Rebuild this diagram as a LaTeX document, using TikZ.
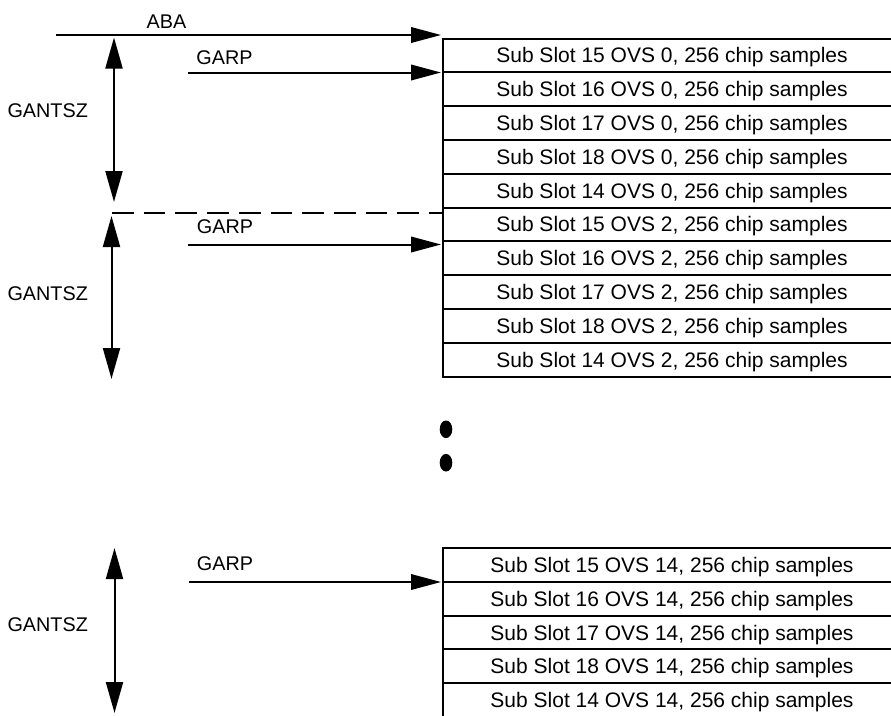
\documentclass[tikz,border=0pt]{standalone}
\usepackage{fontspec}
\setmainfont{Liberation Sans}
\usetikzlibrary{arrows.meta,shapes.geometric}
\begin{document}
\begin{tikzpicture}[x=1pt,y=-1pt,
  row/.style={draw, line width=2pt, minimum width=458pt, minimum height=33.8pt,
    inner sep=0pt, text height=15pt, text depth=0pt, font=\fontsize{21}{25}\selectfont},
  lbl/.style={inner sep=0pt, text height=14pt, text depth=0pt, font=\fontsize{19.8}{23}\selectfont},
  arr/.style={line width=2pt, -{Triangle[length=30pt,width=15.5pt]}},
  darr/.style={line width=2pt, {Triangle[length=31pt,width=17pt]}-{Triangle[length=31pt,width=17pt]}},
  dotnode/.style={ellipse, fill=black, draw=none, minimum width=12.6pt, minimum height=17.6pt, inner sep=0pt}]
\useasboundingbox (0,0) rectangle (891,715);
\clip (0,0) rectangle (891,715);

% group 1 and 2 rows
\node[row] (r1)  at (672,55.4)  {Sub Slot 15 OVS 0, 256 chip samples};
\node[row] (r2)  at (672,89.2)  {Sub Slot 16 OVS 0, 256 chip samples};
\node[row] (r3)  at (672,123.0) {Sub Slot 17 OVS 0, 256 chip samples};
\node[row] (r4)  at (672,156.8) {Sub Slot 18 OVS 0, 256 chip samples};
\node[row] (r5)  at (672,190.6) {Sub Slot 14 OVS 0, 256 chip samples};
\node[row] (r6)  at (672,224.4) {Sub Slot 15 OVS 2, 256 chip samples};
\node[row] (r7)  at (672,258.2) {Sub Slot 16 OVS 2, 256 chip samples};
\node[row] (r8)  at (672,292.0) {Sub Slot 17 OVS 2, 256 chip samples};
\node[row] (r9)  at (672,325.8) {Sub Slot 18 OVS 2, 256 chip samples};
\node[row] (r10) at (672,359.6) {Sub Slot 14 OVS 2, 256 chip samples};

% group 3 rows
\node[row] (s1) at (672,564.9) {Sub Slot 15 OVS 14, 256 chip samples};
\node[row] (s2) at (672,598.7) {Sub Slot 16 OVS 14, 256 chip samples};
\node[row] (s3) at (672,632.5) {Sub Slot 17 OVS 14, 256 chip samples};
\node[row] (s4) at (672,666.3) {Sub Slot 18 OVS 14, 256 chip samples};
\node[row] (s5) at (672,700.1) {Sub Slot 14 OVS 14, 256 chip samples};

% ABA arrow
\coordinate (abaS) at (56,35);
\coordinate (abaE) at (441,35);
\draw[arr] (abaS) -- (abaE);
\node[lbl] (aba) at (166.5,21.7) {ABA};

% GARP arrows
\coordinate (g1s) at (188,72.5);
\coordinate (g1e) at (441,72.5);
\draw[arr] (g1s) -- (g1e);
\node[lbl] (garp1) at (224.5,57.8) {GARP};

\coordinate (g2s) at (188,244.5);
\coordinate (g2e) at (441,244.5);
\draw[arr] (g2s) -- (g2e);
\node[lbl] (garp2) at (225,226.7) {GARP};

\coordinate (g3s) at (189,582);
\coordinate (g3e) at (441,582);
\draw[arr] (g3s) -- (g3e);
\node[lbl] (garp3) at (225,563) {GARP};

% dashed separator
\coordinate (dashS) at (112,212.7);
\draw[line width=2pt, dash pattern=on 21.7pt off 10pt] (dashS) -- (dashS -| r6.west);

% GANTSZ double arrows
\coordinate (v1t) at (114,37.5);
\coordinate (v1b) at (114,202);
\draw[darr] (v1t) -- (v1b);
\node[lbl] (gan1) at (47.7,110) {GANTSZ};

\coordinate (v2t) at (111.5,216);
\coordinate (v2b) at (111.5,379);
\draw[darr] (v2t) -- (v2b);
\node[lbl] (gan2) at (47.7,293) {GANTSZ};

\coordinate (v3t) at (114.5,548);
\coordinate (v3b) at (114.5,713);
\draw[darr] (v3t) -- (v3b);
\node[lbl] (gan3) at (47.7,624) {GANTSZ};

% ellipsis dots
\node[dotnode] (dot1) at (446,429.3) {};
\node[dotnode] (dot2) at (446,462.7) {};
\end{tikzpicture}
\end{document}
